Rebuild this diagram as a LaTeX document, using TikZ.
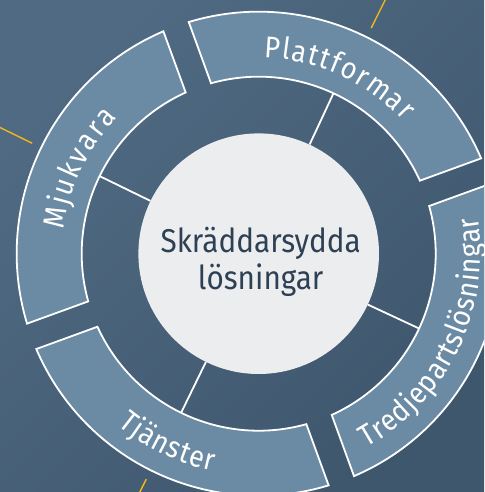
\documentclass[tikz,border=0pt]{standalone}
\usepackage{fontspec}
\setmainfont{Fira Sans}
\newfontfamily\narrowsans[FakeStretch=0.9]{Fira Sans}
\usetikzlibrary{decorations.text}

\definecolor{bgtl}{RGB}{80,106,131}
\definecolor{bgbr}{RGB}{62,87,109}
\definecolor{ringfill}{RGB}{107,139,164}
\definecolor{corefill}{RGB}{236,237,239}
\definecolor{coreink}{RGB}{46,64,83}
\definecolor{accent}{RGB}{242,183,27}

\newcommand{\arcfont}{\narrowsans\fontsize{30}{36}\selectfont}

\tikzset{
  segment/.style={fill=ringfill, draw=white, line width=1.8pt},
  spoke/.style={draw=white, line width=1.8pt},
  ray/.style={draw=accent, line width=1.4pt},
  core/.style={circle, fill=corefill, minimum size=240.6pt, inner sep=0pt},
  coretitle/.style={align=center, text=coreink, font=\narrowsans\fontsize{33}{37}\selectfont},
  arclabel/.style={decorate, decoration={text along path, text color=white,
      text align={fit to path}, text={|\arcfont|#1}}},
}

\begin{document}
\begin{tikzpicture}[x=1pt, y=1pt]
    % background
    \useasboundingbox (-258.7,-238.3) rectangle (225.3,253.7);
    \clip (-258.7,-238.3) rectangle (225.3,253.7);
    \shade[top color=bgtl, bottom color=bgbr, shading angle=45] (-258.7,-238.3) rectangle (225.3,253.7);
    % rays
    \coordinate (rayP) at (63.5:252);
    \coordinate (rayPend) at (63.5:340);
    \coordinate (rayM) at (154:252);
    \coordinate (rayMend) at (154:340);
    \coordinate (rayT) at (243.5:252);
    \coordinate (rayTend) at (243.5:340);
    \draw[ray] (rayP) -- (rayPend);
    \draw[ray] (rayM) -- (rayMend);
    \draw[ray] (rayT) -- (rayTend);
    % segments
    \draw[segment] (23.2:242) arc[start angle=23.2, end angle=106.8, radius=242pt]
        -- (105.63:177) arc[start angle=105.63, end angle=24.37, radius=177pt] -- cycle;
    \draw[segment] (113.2:242) arc[start angle=113.2, end angle=196.8, radius=242pt]
        -- (195.63:177) arc[start angle=195.63, end angle=114.37, radius=177pt] -- cycle;
    \draw[segment] (203.2:242) arc[start angle=203.2, end angle=286.8, radius=242pt]
        -- (285.63:177) arc[start angle=285.63, end angle=204.37, radius=177pt] -- cycle;
    \draw[segment] (293.2:242) arc[start angle=293.2, end angle=376.8, radius=242pt]
        -- (375.63:177) arc[start angle=375.63, end angle=294.37, radius=177pt] -- cycle;
    % core
    \node[core] (core) at (0,0) {};
    % spokes
    \coordinate (plattIn) at (65:177);
    \coordinate (mjukIn) at (154:177);
    \coordinate (tjanIn) at (244:177);
    \coordinate (tredIn) at (335:177);
    \draw[spoke] (core.65) -- (plattIn);
    \draw[spoke] (core.154) -- (mjukIn);
    \draw[spoke] (core.244) -- (tjanIn);
    \draw[spoke] (core.335) -- (tredIn);
    % labels
    \path[arclabel=Plattformar] (88.5:196) arc[start angle=88.5, end angle=42.5, radius=196pt];
    \path[arclabel=Mjukvara] (173:196) arc[start angle=173, end angle=136, radius=196pt];
    \path[arclabel=Tjänster] (230.5:222) arc[start angle=230.5, end angle=258, radius=222pt];
    \path[arclabel=Tredjepartslösningar] (299:222) arc[start angle=299, end angle=369.5, radius=222pt];
    \node[coretitle] (title) at (2,-8) {Skräddarsydda\\lösningar};
\end{tikzpicture}
\end{document}
